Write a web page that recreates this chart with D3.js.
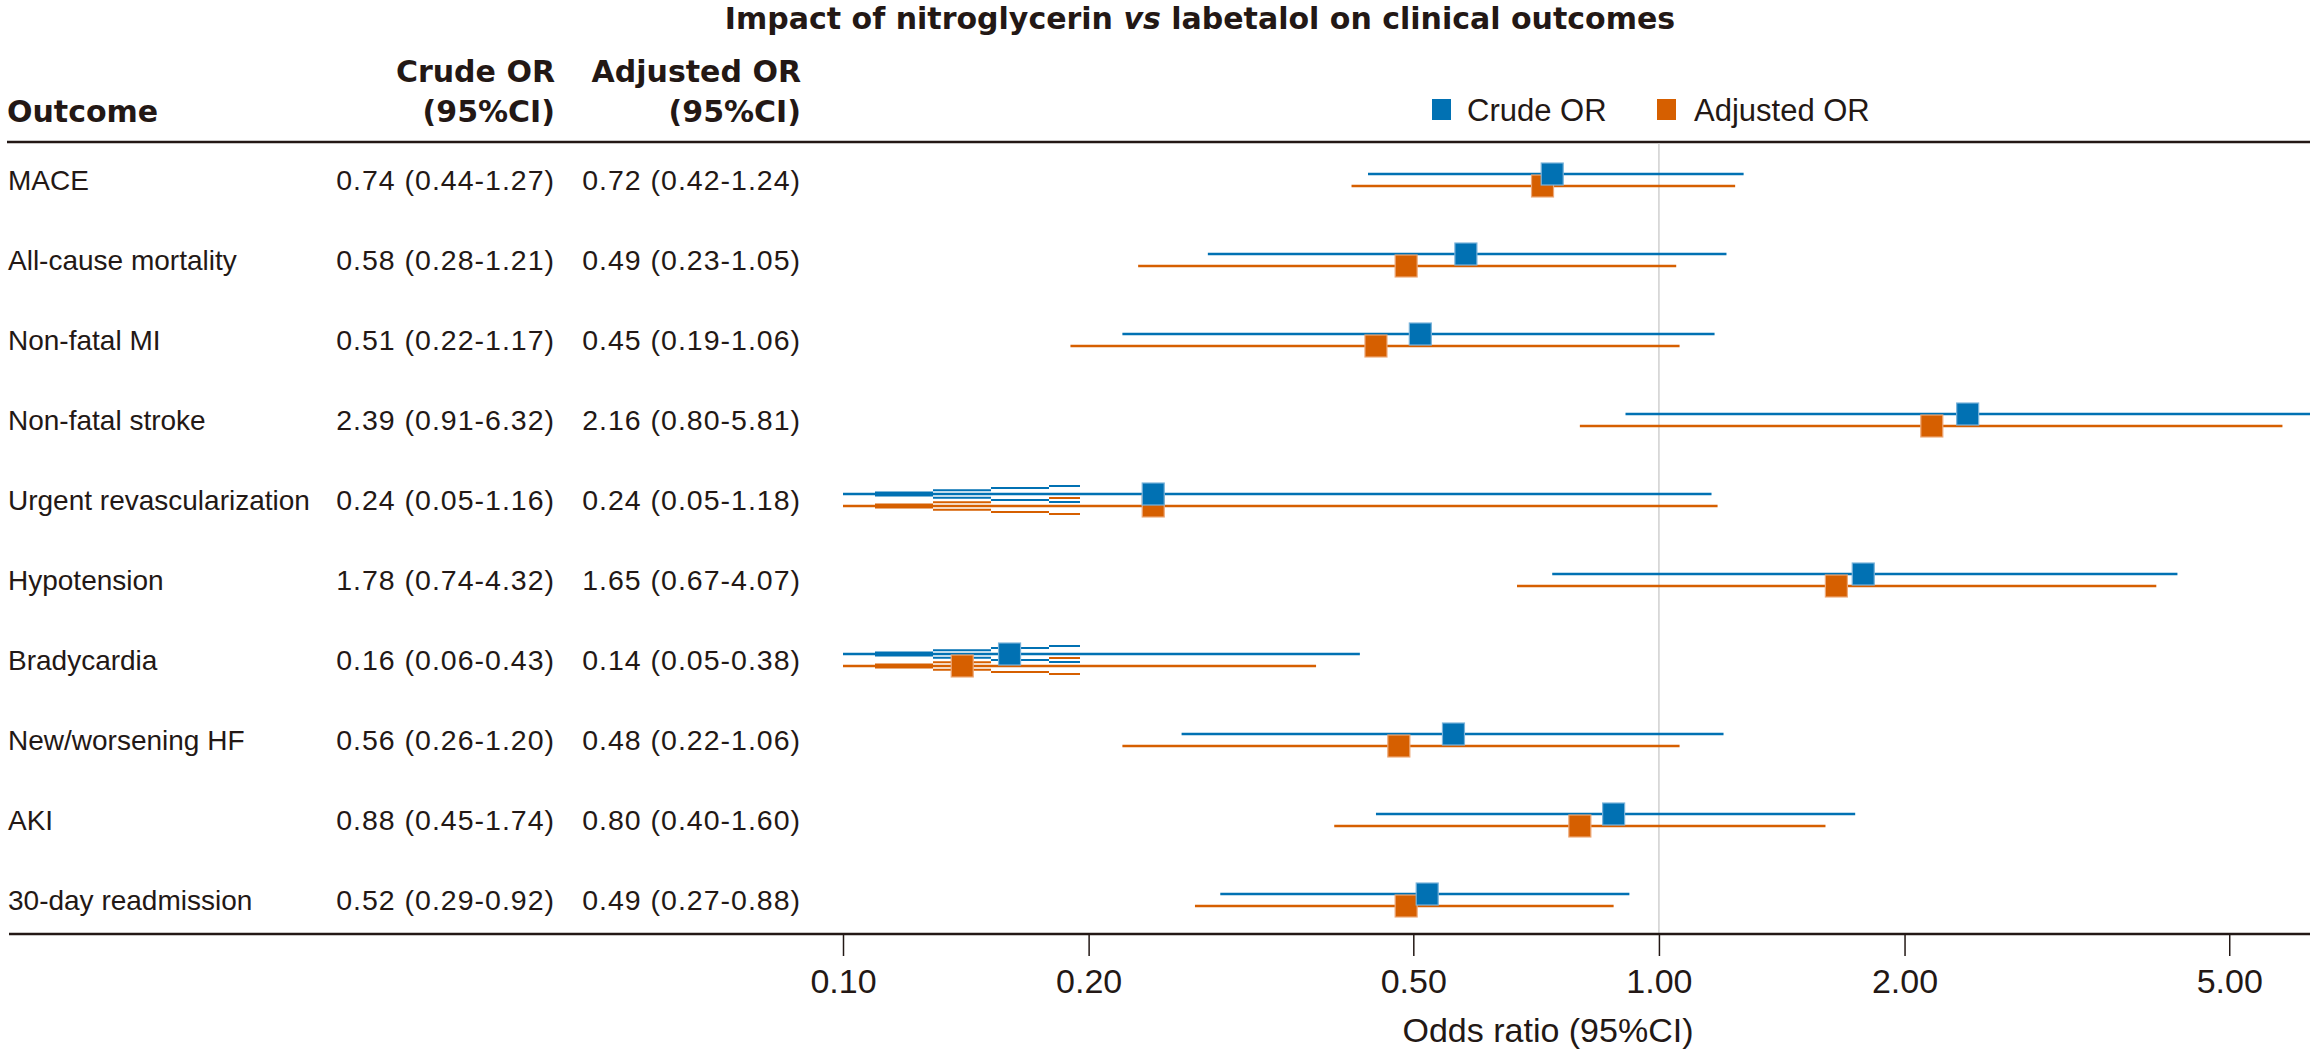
<!DOCTYPE html>
<html>
<head>
<meta charset="utf-8">
<script src="https://cdn.jsdelivr.net/npm/d3@7"></script>
<style>
  body { margin: 0; background: #fff; }
  text { fill: #231815; }
</style>
</head>
<body>
<svg id="chart"></svg>
<script>
const outcomes = ["MACE", "All-cause mortality", "Non-fatal MI", "Non-fatal stroke", "Urgent revascularization",
    "Hypotension", "Bradycardia", "New/worsening HF", "AKI", "30-day readmission"];
const crudeOR = [0.74, 0.58, 0.51, 2.39, 0.24, 1.78, 0.16, 0.56, 0.88, 0.52];
const crudeLow = [0.44, 0.28, 0.22, 0.91, 0.05, 0.74, 0.06, 0.26, 0.45, 0.29];
const crudeHigh = [1.27, 1.21, 1.17, 6.32, 1.16, 4.32, 0.43, 1.20, 1.74, 0.92];
const adjOR = [0.72, 0.49, 0.45, 2.16, 0.24, 1.65, 0.14, 0.48, 0.80, 0.49];
const adjLow = [0.42, 0.23, 0.19, 0.80, 0.05, 0.67, 0.05, 0.22, 0.40, 0.27];
const adjHigh = [1.24, 1.05, 1.06, 5.81, 1.18, 4.07, 0.38, 1.06, 1.60, 0.88];
const tickValues = [0.1, 0.2, 0.5, 1, 2, 5];
const seriesNames = ["Crude OR", "Adjusted OR"];

const W = 2314, H = 1056;
const BLUE = "#0171b3", ORANGE = "#d65f00";
const svg = d3.select("#chart").attr("width", W).attr("height", H);

const x = d3.scaleLog().domain([0.1, 6.28]).range([843, 2310]).clamp(true);
const y = d3.scalePoint().domain(outcomes).range([180, 900]);
const fmt = d3.format(".2f");

const series = [
    { name: seriesNames[1], color: ORANGE, edge: "#eda877", dy: 6, or: adjOR, lo: adjLow, hi: adjHigh },
    { name: seriesNames[0], color: BLUE, edge: "#79b3da", dy: -6, or: crudeOR, lo: crudeLow, hi: crudeHigh }
];

// title
svg.append("text").attr("x", 1200).attr("y", 29).attr("text-anchor", "middle")
    .style("font", "bold 30px 'DejaVu Sans'")
    .call(t => {
        t.append("tspan").text("Impact of nitroglycerin ");
        t.append("tspan").style("font-style", "italic").text("vs");
        t.append("tspan").text(" labetalol on clinical outcomes");
    });

// column headers
const head = svg.append("g").style("font", "bold 30px 'DejaVu Sans'");
head.append("text").attr("x", 7).attr("y", 122).text("Outcome");
[[555, "Crude OR"], [801, "Adjusted OR"]].forEach(h => {
    head.append("text").attr("x", h[0]).attr("y", 82).attr("text-anchor", "end").text(h[1]);
    head.append("text").attr("x", h[0]).attr("y", 122).attr("text-anchor", "end").text("(95%CI)");
});

// legend
const leg = svg.append("g").style("font", "31px 'Liberation Sans'");
[[1432, 1467, BLUE, seriesNames[0]], [1657, 1694, ORANGE, seriesNames[1]]].forEach(l => {
    leg.append("rect").attr("x", l[0]).attr("y", 99).attr("width", 19).attr("height", 21).attr("fill", l[2]);
    leg.append("text").attr("x", l[1]).attr("y", 121).text(l[3]);
});

// rules
svg.append("line").attr("x1", 7).attr("x2", W - 4).attr("y1", 142).attr("y2", 142)
    .attr("stroke", "#231815").attr("stroke-width", 2.5);
svg.append("line").attr("x1", x(1)).attr("x2", x(1)).attr("y1", 143).attr("y2", 934)
    .attr("stroke", "#cfcfcf").attr("stroke-width", 1.5);

// row texts
const rows = svg.append("g");
outcomes.forEach((o, i) => {
    rows.append("text").attr("x", 8).attr("y", y(o) + 10).style("font", "28px 'Liberation Sans'").text(o);
    rows.append("text").attr("x", 555).attr("y", y(o) + 10).attr("text-anchor", "end")
        .style("font", "28.5px 'Liberation Sans'").style("letter-spacing", "1px")
        .text(fmt(crudeOR[i]) + " (" + fmt(crudeLow[i]) + "-" + fmt(crudeHigh[i]) + ")");
    rows.append("text").attr("x", 801).attr("y", y(o) + 10).attr("text-anchor", "end")
        .style("font", "28.5px 'Liberation Sans'").style("letter-spacing", "1px")
        .text(fmt(adjOR[i]) + " (" + fmt(adjLow[i]) + "-" + fmt(adjHigh[i]) + ")");
});

// stepped arrow heads where the lower limit runs off the left of the axis
const steps = [[90, 148, 3.7], [148, 206, 6], [206, 237, 8]];

series.forEach(s => {
    const g = svg.append("g");
    g.selectAll("line.ci").data(outcomes).enter().append("line")
        .attr("x1", (d, i) => x(s.lo[i])).attr("x2", (d, i) => x(s.hi[i]))
        .attr("y1", d => y(d) + s.dy).attr("y2", d => y(d) + s.dy)
        .attr("stroke", s.color).attr("stroke-width", 2.5);
    outcomes.forEach((o, i) => {
        if (s.lo[i] >= x.domain()[0]) return;
        const x0 = x.range()[0], yc = y(o) + s.dy;
        g.append("rect").attr("x", x0 + 32).attr("y", yc - 2.5).attr("width", 58).attr("height", 5).attr("fill", s.color);
        steps.forEach(st => {
            [-1, 1].forEach(sg => {
                g.append("line").attr("x1", x0 + st[0]).attr("x2", x0 + st[1])
                    .attr("y1", yc + sg * st[2]).attr("y2", yc + sg * st[2])
                    .attr("stroke", s.color).attr("stroke-width", 2);
            });
        });
    });
});
series.forEach(s => {
    svg.append("g").selectAll("rect").data(outcomes).enter().append("rect")
        .attr("x", (d, i) => x(s.or[i]) - 11).attr("y", d => y(d) + s.dy - 11)
        .attr("width", 22).attr("height", 22)
        .attr("fill", s.color).attr("stroke", s.edge).attr("stroke-width", 1.2);
});

// x axis
svg.append("line").attr("x1", 9).attr("x2", W - 4).attr("y1", 934).attr("y2", 934)
    .attr("stroke", "#231815").attr("stroke-width", 2.5);
const axis = svg.append("g").attr("transform", "translate(0,935)")
    .call(d3.axisBottom(x).tickValues(tickValues).tickFormat(fmt).tickSize(21).tickPadding(13));
axis.select(".domain").remove();
axis.selectAll(".tick line").attr("stroke", "#231815").attr("stroke-width", 1.5);
axis.selectAll(".tick text").style("font", "34px 'Liberation Sans'").attr("fill", "#231815");
svg.append("text").attr("x", 1548).attr("y", 1042).attr("text-anchor", "middle")
    .style("font", "34px 'Liberation Sans'").text("Odds ratio (95%CI)");
</script>
</body>
</html>
